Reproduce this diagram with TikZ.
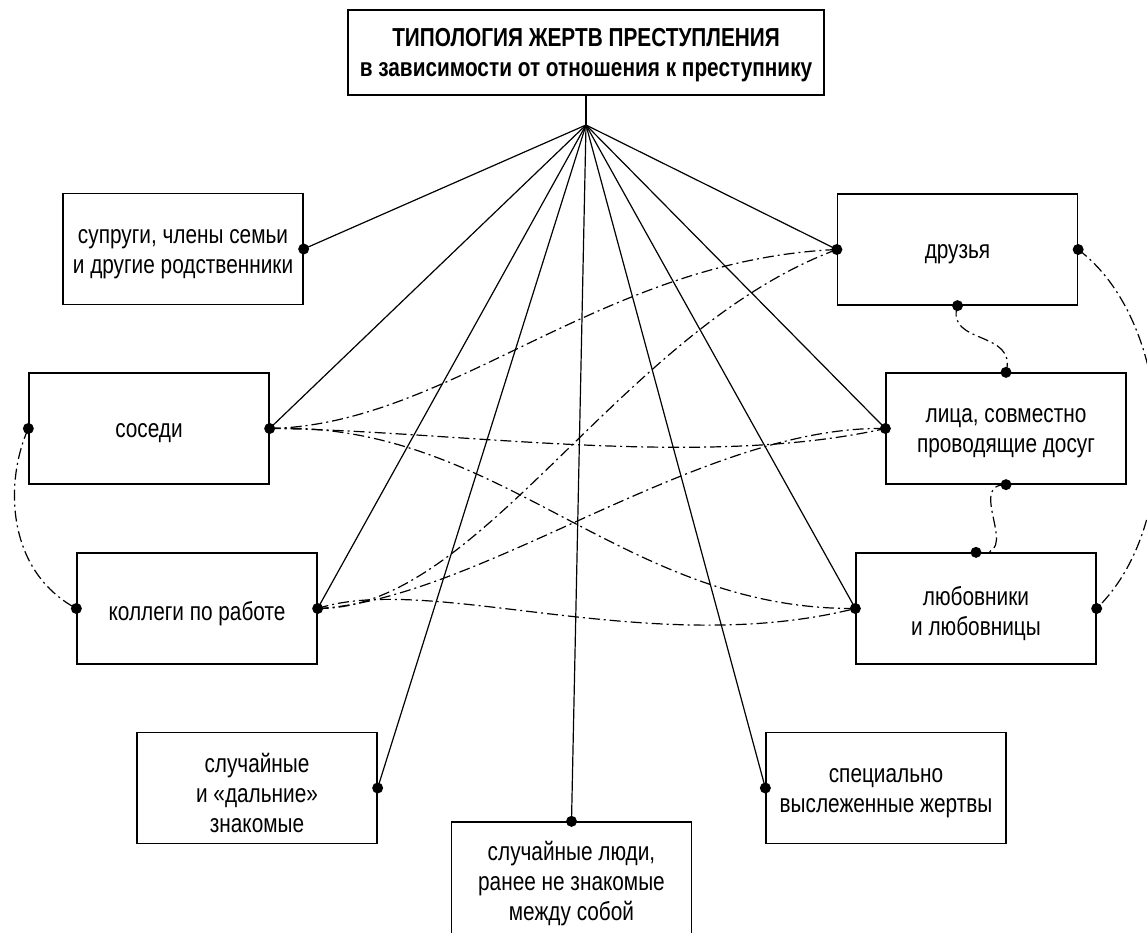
\documentclass[tikz,border=0pt]{standalone}
\usepackage{fontspec}
\setmainfont{Liberation Sans}[FakeStretch=0.8]
\begin{document}
\begin{tikzpicture}[x=1pt,y=-1pt,
  box/.style={draw,line width=1.3pt,minimum width=240pt,minimum height=111pt,inner sep=0pt},
  lbl/.style={inner sep=0pt,align=center,yshift=-5pt,font=\fontsize{26}{30}\selectfont},
  lblthree/.style={lbl,yshift=0pt},
  titlebox/.style={draw,line width=2.6pt,minimum width=476pt,minimum height=85pt,inner sep=0pt},
  titlelbl/.style={inner sep=0pt,align=center,yshift=-3pt,font=\fontsize{26}{30}\selectfont\bfseries},
  spoke/.style={line width=1.2pt},
  link/.style={line width=1.2pt,dash pattern=on 11pt off 4pt on 2pt off 4pt},
  dotmark/.style={circle,fill=black,inner sep=0pt,minimum size=11pt}
]
\useasboundingbox (0,0) rectangle (1147,933);
% boxes
\node[titlebox] (title) at (586,52.5) {};
\node[titlelbl] (title-t) at (title.center) {ТИПОЛОГИЯ ЖЕРТВ ПРЕСТУПЛЕНИЯ\\в зависимости от отношения к преступнику};
\coordinate (hub) at (586,125);
\node[box] (supruga) at (183,249) {};
\node[lbl] (supruga-t) at (supruga.center) {супруги, члены семьи\\и другие родственники};
\node[box] (sosedi) at (149,428.5) {};
\node[lbl] (sosedi-t) at (sosedi.center) {соседи};
\node[box] (kollegi) at (197,608.5) {};
\node[lbl] (kollegi-t) at (kollegi.center) {коллеги по работе};
\node[box] (druzya) at (957.5,249.5) {};
\node[lbl] (druzya-t) at (druzya.center) {друзья};
\node[box] (dosug) at (1006,428.5) {};
\node[lbl] (dosug-t) at (dosug.center) {лица, совместно\\проводящие досуг};
\node[box] (lyub) at (976,608.5) {};
\node[lbl] (lyub-t) at (lyub.center) {любовники\\и любовницы};
\node[box] (znak) at (257,788) {};
\node[lblthree] (znak-t) at (znak.center) {случайные\\и «дальние»\\знакомые};
\node[box,minimum height=113pt] (lyudi) at (571.5,878.5) {};
\node[lblthree] (lyudi-t) at (lyudi.center) {случайные люди,\\ранее не знакомые\\между собой};
\node[box] (spec) at (886,788) {};
\node[lbl] (spec-t) at (spec.center) {специально\\выслеженные жертвы};
% spokes
\draw[spoke] (title.south) -- (hub);
\foreach \t in {supruga.east,sosedi.east,kollegi.east,znak.east,lyudi.north,spec.west,lyub.west,dosug.west,druzya.west}
  \draw[spoke] (hub) -- (\t);
% dash-dot links
\draw[link] (sosedi.east) .. controls (450,425) and (600,260) .. (druzya.west);
\draw[link] (kollegi.east) .. controls (480,610) and (620,330) .. (druzya.west);
\draw[link] (sosedi.east) .. controls (450,430) and (700,470) .. (dosug.west);
\draw[link] (kollegi.east) .. controls (480,600) and (700,425) .. (dosug.west);
\draw[link] (sosedi.east) .. controls (500,420) and (620,610) .. (lyub.west);
\draw[link] (kollegi.east) .. controls (430,572) and (650,660) .. (lyub.west);
\draw[link] (sosedi.west) .. controls (5,480) and (5,570) .. (kollegi.west);
\draw[link] (druzya.south) .. controls (945,345) and (1018,330) .. (dosug.north);
\draw[link] (dosug.south) .. controls (965,484) and (1025,560) .. (lyub.north);
\draw[link] (druzya.east) .. controls (1172,320) and (1187,520) .. (lyub.east);
% dots
\foreach \t in {supruga.east,sosedi.east,sosedi.west,kollegi.east,kollegi.west,znak.east,lyudi.north,spec.west,lyub.west,lyub.east,lyub.north,dosug.west,dosug.north,dosug.south,druzya.west,druzya.east,druzya.south}
  \node[dotmark] at (\t) {};
\end{tikzpicture}
\end{document}
